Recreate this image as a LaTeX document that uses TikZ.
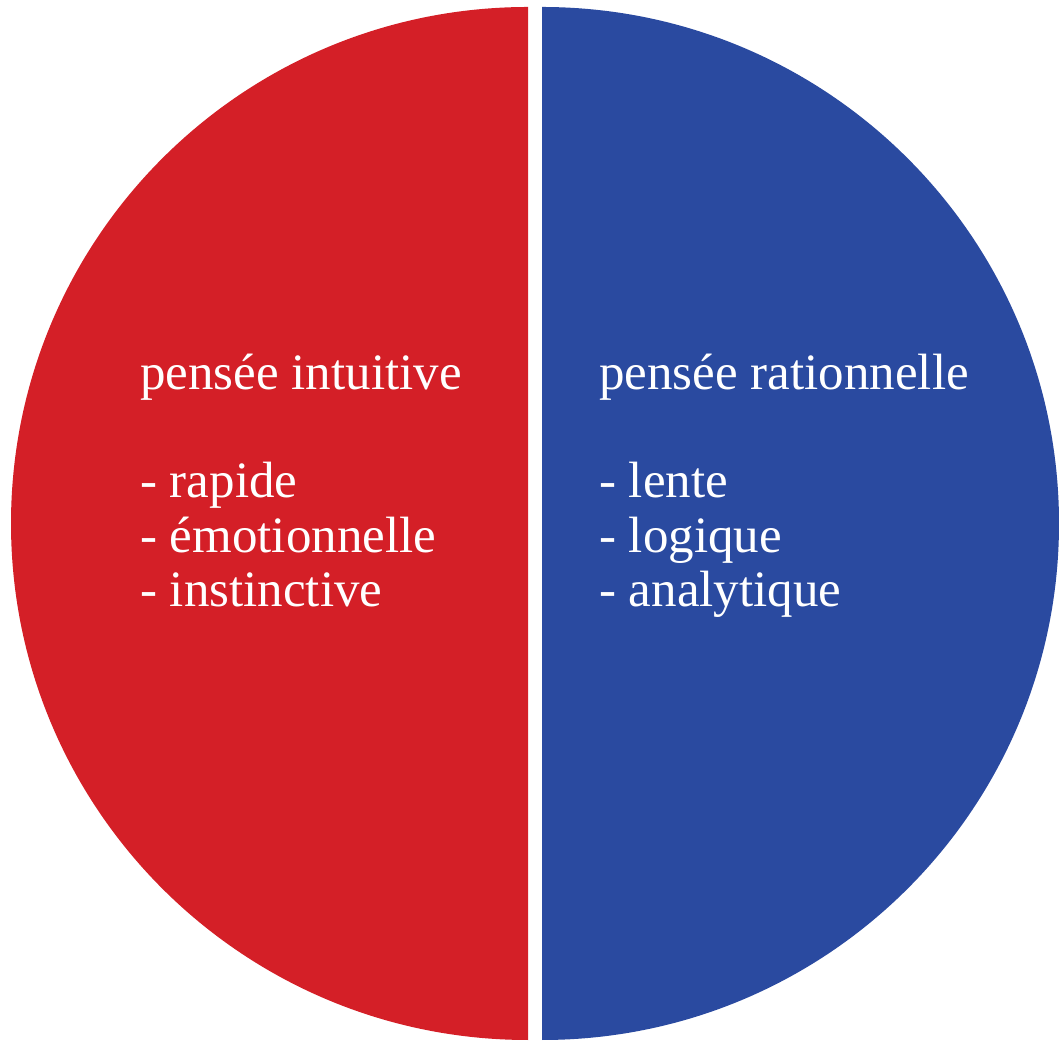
\documentclass[tikz,border=0pt]{standalone}
\usepackage{fontspec}
\setmainfont{Liberation Serif}
\definecolor{intured}{RGB}{212, 31, 39}
\definecolor{ratioblue}{RGB}{42, 74, 160}
\usetikzlibrary{positioning}

\begin{document}
\begin{tikzpicture}[
  x=1pt, y=1pt,
  half/.style={draw=none},
  txt/.style={text=white, anchor=base west, inner sep=0pt, font=\fontsize{51}{54}\selectfont}
]
  \useasboundingbox (0,0) rectangle (1059,1043);
  % two half discs
  \fill[half, intured] (528,1036) arc[start angle=90, end angle=270, x radius=517, y radius=516.5] -- cycle;
  \fill[half, ratioblue] (542,1036) arc[start angle=90, end angle=-90, x radius=517, y radius=516.5] -- cycle;
  % left half
  \node[txt] (intu) at (140,653) {pensée intuitive};
  \node[txt] (rapide) at (140,545) {- rapide};
  \node[txt] (emo) at (140,490.5) {- émotionnelle};
  \node[txt] (inst) at (140,436) {- instinctive};
  % right half
  \node[txt] (ratio) at (599,653) {pensée rationnelle};
  \node[txt] (lente) at (599,545) {- lente};
  \node[txt] (logi) at (599,490.5) {- logique};
  \node[txt] (anal) at (599,436) {- analytique};
\end{tikzpicture}
\end{document}
